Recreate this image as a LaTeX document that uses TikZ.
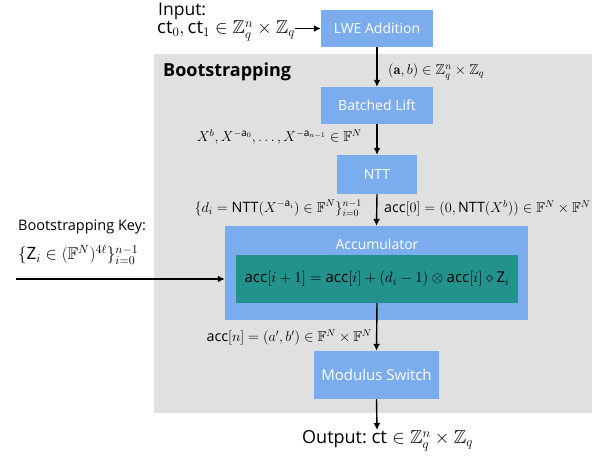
\RequirePackage{fix-cm}
\documentclass[tikz,border=0pt]{standalone}
\usepackage{amsmath,amssymb}
\usepackage{fontspec}
\newfontfamily\labfont{Open Sans}
\usetikzlibrary{arrows.meta}
\definecolor{boxblue}{HTML}{7BADEE}
\definecolor{bggray}{HTML}{E0E0E0}
\definecolor{accteal}{HTML}{23918C}
\newcommand{\sv}[1]{\text{\labfont #1}}
\newcommand{\fs}[1]{\fontsize{#1}{#1}\selectfont}
\begin{document}
\begin{tikzpicture}[x=1pt,y=-1pt,
  blk/.style={fill=boxblue, draw=none, text=white, font=\labfont\fs{14}, inner sep=0pt},
  arr/.style={line width=1.4pt, -{Latex[length=7pt,width=7pt]}},
  lbl/.style={font=\fs{14.3}, inner sep=0pt},
  txt/.style={font=\labfont\fs{14}, inner sep=0pt}]
\useasboundingbox (0,0) rectangle (595,456);
\node[fill=bggray, minimum width=438pt, minimum height=359pt, inner sep=0pt] (bg) at (373,233.5) {};
\node[font=\labfont\bfseries\fs{18}, anchor=west, inner sep=0pt] (bstitle) at (163,72) {Bootstrapping};

\node[blk, minimum width=112pt, minimum height=37pt] (lwe) at (377,28.5) {LWE Addition};
\node[blk, minimum width=112pt, minimum height=37pt] (lift) at (377,105.5) {Batched Lift};
\node[blk, minimum width=80pt, minimum height=39pt] (ntt) at (377,174.5) {NTT};
\node[blk, minimum width=303pt, minimum height=94pt] (acc) at (376.5,273) {};
\node[txt, text=white] (acctitle) at (377,244) {Accumulator};
\node[fill=accteal, minimum width=282pt, minimum height=48pt, inner sep=0pt, font=\fs{15}] (inner) at (377,279)
  {$\sv{acc}[i+1]=\sv{acc}[i]+(d_i-1)\otimes\sv{acc}[i]\diamond\sv{Z}_i$};
\node[blk, font=\labfont\fs{15}, minimum width=125pt, minimum height=48pt] (mod) at (376.5,375) {Modulus Switch};

% input
\node[txt, font=\labfont\fs{17.5}, anchor=west] (inlabel) at (158,11) {Input:};
\node[font=\fs{18.6}, inner sep=0pt, anchor=west] (inform) at (157,31) {$\sv{ct}_0,\sv{ct}_1\in\mathbb{Z}_q^n\times\mathbb{Z}_q$};
\draw[arr] (inform.east |- lwe.west) -- (lwe.west);

% key
\node[txt, font=\labfont\fs{14.5}, anchor=west] (keylabel) at (18,227) {Bootstrapping Key:};
\node[font=\fs{17}, inner sep=0pt, anchor=west] (keyform) at (18,255) {$\{\sv{Z}_i\in(\mathbb{F}^N)^{4\ell}\}_{i=0}^{n-1}$};
\coordinate (keystart) at (16,279);
\draw[arr] (keystart) -- (keystart -| acc.west);

% labels
\node[lbl, anchor=west] (l1) at (388,72) {$(\mathbf{a},b)\in\mathbb{Z}_q^n\times\mathbb{Z}_q$};
\node[lbl, anchor=east] (l2) at (362,137) {$X^b,X^{-\sv{a}_0},\ldots,X^{-\sv{a}_{n-1}}\in\mathbb{F}^N$};
\node[lbl, anchor=east] (l3) at (362,208) {$\{d_i=\sv{NTT}(X^{-\sv{a}_i})\in\mathbb{F}^N\}_{i=0}^{n-1}$};
\node[lbl, anchor=west] (l4) at (384,208) {$\sv{acc}[0]=(0,\sv{NTT}(X^b))\in\mathbb{F}^N\times\mathbb{F}^N$};
\node[lbl, anchor=east] (l5) at (372,337) {$\sv{acc}[n]=(a',b')\in\mathbb{F}^N\times\mathbb{F}^N$};

% output
\coordinate (outend) at (377,430);
\node[font=\labfont\fs{18}, anchor=west, inner sep=0pt] (out) at (302,441) {Output:\ {\fs{18.8}$\sv{ct}\in\mathbb{Z}_q^n\times\mathbb{Z}_q$}};

% arrows
\draw[arr] (lwe.south) -- (lift.north);
\draw[arr] (lift.south) -- (ntt.north);
\draw[arr] (ntt.south) -- (acc.north);
\draw[arr] (inner.south) -- (mod.north);
\draw[arr] (mod.south) -- (outend);
\end{tikzpicture}
\end{document}
